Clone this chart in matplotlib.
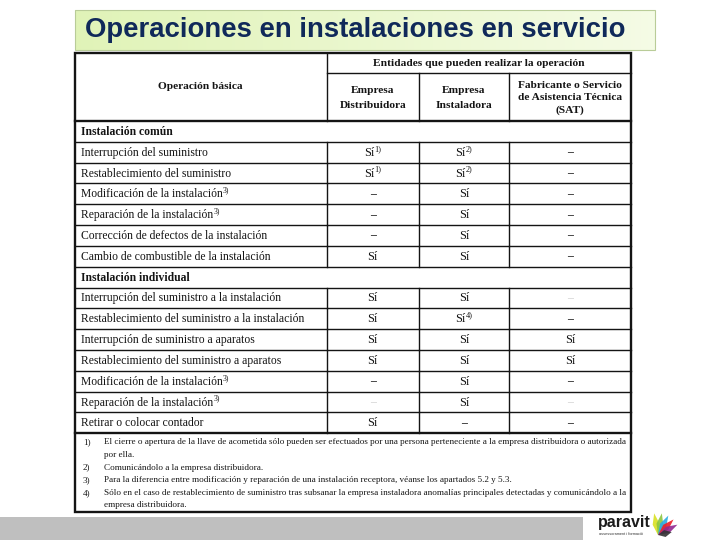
import numpy as np
import matplotlib.pyplot as plt
from matplotlib.patches import Rectangle, Polygon

title = "Operaciones en instalaciones en servicio"
head_op = "Operación básica"
head_group = "Entidades que pueden realizar la operación"
columns = ["Empresa\nDistribuidora", "Empresa\nInstaladora",
           "Fabricante o Servicio\nde Asistencia Técnica\n(SAT)"]

# "^x)" marks a footnote call, "(–)" a dash printed very faintly in the scan
common_title = "Instalación común"
common_ops = ["Interrupción del suministro",
              "Restablecimiento del suministro",
              "Modificación de la instalación^3)",
              "Reparación de la instalación^3)",
              "Corrección de defectos de la instalación",
              "Cambio de combustible de la instalación"]
common_dist = ["Sí^1)", "Sí^1)", "–", "–", "–", "Sí"]
common_inst = ["Sí^2)", "Sí^2)", "Sí", "Sí", "Sí", "Sí"]
common_sat = ["–", "–", "–", "–", "–", "–"]

indiv_title = "Instalación individual"
indiv_ops = ["Interrupción del suministro a la instalación",
             "Restablecimiento del suministro a la instalación",
             "Interrupción de suministro a aparatos",
             "Restablecimiento del suministro a aparatos",
             "Modificación de la instalación^3)",
             "Reparación de la instalación^3)",
             "Retirar o colocar contador"]
indiv_dist = ["Sí", "Sí", "Sí", "Sí", "–", "(–)", "Sí"]
indiv_inst = ["Sí", "Sí^4)", "Sí", "Sí", "Sí", "Sí", "–"]
indiv_sat = ["(–)", "–", "Sí", "Sí", "–", "(–)", "–"]

note_nums = ["1)", "2)", "3)", "4)"]
note_texts = ["El cierre o apertura de la llave de acometida sólo pueden ser efectuados por una persona perteneciente a la empresa distribuidora o autorizada\npor ella.",
              "Comunicándolo a la empresa distribuidora.",
              "Para la diferencia entre modificación y reparación de una instalación receptora, véanse los apartados 5.2 y 5.3.",
              "Sólo en el caso de restablecimiento de suministro tras subsanar la empresa instaladora anomalías principales detectadas y comunicándolo a la\nempresa distribuidora."]

fig = plt.figure(figsize=(7.2, 5.4), dpi=100)
ax = fig.add_axes([0, 0, 1, 1])
ax.set_xlim(0, 720)
ax.set_ylim(540, 0)
ax.axis('off')
renderer = fig.canvas.get_renderer()

serif = 'Liberation Serif'
ink = '#141414'
fs = 8.4


def text_width(t):
    bb = t.get_window_extent(renderer)
    return bb.width


def put(x, y, s, ha='left', size=fs, **kw):
    # draws "base^sup" with a small raised footnote call
    base, _, sup = s.partition("^")
    t = ax.text(x, y, base, family=serif, fontsize=size, ha='left', va='center',
                color=ink, **kw)
    w = text_width(t)
    ts = None
    if sup:
        ts = ax.text(x + w + 0.2, y - 4, sup, family=serif, fontsize=size * 0.68,
                     ha='left', va='center', color=ink, **kw)
        w += text_width(ts) + 0.2
    if ha == 'center':
        t.set_x(x - w / 2)
        if ts is not None:
            ts.set_x(ts.get_position()[0] - w / 2)


# title band with light green gradient
grad = np.linspace(0, 1, 256).reshape(1, -1)
c0 = np.array([0.88, 0.955, 0.72])
c1 = np.array([0.96, 0.985, 0.90])
img = c0 + (c1 - c0) * grad[..., None]
ax.imshow(img, extent=[75, 655, 50, 10], aspect='auto', zorder=1)
ax.add_patch(Rectangle((75, 10), 580, 40, fill=False, ec='#b9cc98', lw=0.8, zorder=2))
ax.text(85, 30, title, fontsize=19.8, fontweight='bold', color='#10295a',
        family='Liberation Sans', va='center', ha='left', zorder=3)

# table geometry
xs = [75, 326.5, 419, 509, 631]
top, mid, hbot = 52.7, 73, 121
rh = 20.82

rows = [("section", common_title, None)]
for i, op in enumerate(common_ops):
    rows.append(("row", op, [common_dist[i], common_inst[i], common_sat[i]]))
rows.append(("section", indiv_title, None))
for i, op in enumerate(indiv_ops):
    rows.append(("row", op, [indiv_dist[i], indiv_inst[i], indiv_sat[i]]))

nbot = hbot + rh * len(rows)
bottom = 512

lw_in, lw_out = 1.0, 1.7

# header
ax.plot([xs[1], xs[4]], [mid, mid], color=ink, lw=lw_in)
for x in xs[1:4]:
    ax.plot([x, x], [top if x == xs[1] else mid, hbot], color=ink, lw=lw_in)
ax.plot([xs[0], xs[4]], [hbot, hbot], color=ink, lw=lw_out)
ax.text((xs[0] + xs[1]) / 2, (top + hbot) / 2, head_op, family=serif, fontweight='bold',
        fontsize=8.2, ha='center', va='center', color=ink)
ax.text((xs[1] + xs[4]) / 2, (top + mid) / 2 + 1, head_group, family=serif, fontweight='bold',
        fontsize=8.2, ha='center', va='center', color=ink)
for j, col in enumerate(columns):
    nl = col.count("\n") + 1
    ax.text((xs[j + 1] + xs[j + 2]) / 2, (mid + hbot) / 2 + 1, col, family=serif,
            fontweight='bold', fontsize=8.2, ha='center', va='center', color=ink,
            linespacing=1.75 if nl == 2 else 1.45)

# body rows
for k, (kind, label, vals) in enumerate(rows):
    y0 = hbot + rh * k
    yc = y0 + rh / 2
    if k > 0:
        ax.plot([xs[0], xs[4]], [y0, y0], color=ink, lw=lw_in)
    if kind == "section":
        put(xs[0] + 6, yc + 0.5, label, fontweight='bold')
        continue
    for x in xs[1:4]:
        ax.plot([x, x], [y0, y0 + rh], color=ink, lw=lw_in)
    put(xs[0] + 6, yc + 0.5, label)
    for j, v in enumerate(vals):
        xc = (xs[j + 1] + xs[j + 2]) / 2
        if v == "(–)":
            ax.text(xc, yc, "–", family=serif, fontsize=8.5, ha='center', va='center',
                    color='#cccccc')
        elif v == "–":
            ax.text(xc, yc, v, family=serif, fontsize=8.5, fontweight='bold',
                    ha='center', va='center', color=ink)
        else:
            put(xc, yc + 0.5, v, ha='center', size=8.8)

# footnotes
ax.plot([xs[0], xs[4]], [nbot, nbot], color=ink, lw=lw_out)
ny = nbot + 9
step = 12.6
for num, txt in zip(note_nums, note_texts):
    ax.text(83, ny, num, family=serif, fontsize=6.6, ha='left', va='center', color=ink)
    for line in txt.split("\n"):
        ax.text(104, ny, line, family=serif, fontsize=6.6, ha='left', va='center', color=ink)
        ny += step

# outer border
ax.add_patch(Rectangle((xs[0], top), xs[4] - xs[0], bottom - top, fill=False,
                       ec=ink, lw=lw_out, zorder=4))

# footer band and logo
ax.add_patch(Rectangle((0, 517), 583, 23, color='#bfbfbf', lw=0))
ax.text(598, 522, "paravit", family='Liberation Sans', fontweight='bold', fontsize=11.5,
        color='#1b1b1b', ha='left', va='center')
ax.text(599, 534, "assessorament i formació", family='Liberation Sans', fontsize=2.8,
        color='#333333', ha='left', va='center')
leaf_colors = ['#d9e021', '#8cc63f', '#29abe2', '#ed1c24', '#92278f', '#333333']
leaf_angles = [100, 80, 62, 45, 28, 12]
bx, by = 658, 535
for col, a in zip(leaf_colors, leaf_angles):
    t = np.deg2rad(a)
    d = np.array([np.cos(t), -np.sin(t)])
    n = np.array([-d[1], d[0]])
    L = 22 if a > 20 else 14
    pts = [(bx, by), (bx + d[0] * L * 0.5 + n[0] * 3.5, by + d[1] * L * 0.5 + n[1] * 3.5),
           (bx + d[0] * L, by + d[1] * L),
           (bx + d[0] * L * 0.5 - n[0] * 3.5, by + d[1] * L * 0.5 - n[1] * 3.5)]
    ax.add_patch(Polygon(pts, closed=True, color=col, lw=0, alpha=0.9))

fig.savefig("out.png", dpi=100)
